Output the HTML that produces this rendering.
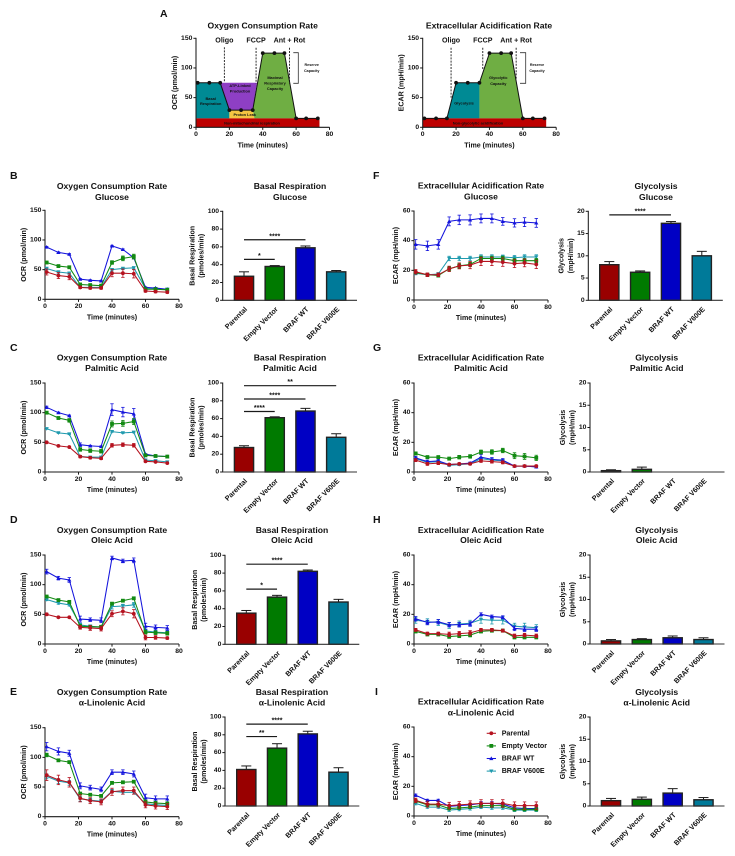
<!DOCTYPE html>
<html lang="en">
<head>
<meta charset="utf-8">
<title>Oxygen consumption and extracellular acidification panels</title>
<style>
html,body{margin:0;padding:0;background:#fff;}
body{width:735px;height:856px;overflow:hidden;}
svg{display:block;filter:blur(0.28px);}
text{font-family:"Liberation Sans",sans-serif;font-weight:700;fill:#111;dominant-baseline:central;}
</style>
</head>
<body>
<svg id="figure" xmlns="http://www.w3.org/2000/svg" width="735" height="856" viewBox="0 0 735 856"></svg>
<script>
// ---------- shared data ----------
const times = [1, 8, 14.5, 21, 27, 33.5, 40, 46.5, 53, 60, 66, 73];
const xTicks = [0, 20, 40, 60, 80];
const ocrTicks = [0, 50, 100, 150];
const ecarTicks = [0, 20, 40, 60];
const basalTicks = [0, 20, 40, 60, 80, 100];
const glycoTicks = [0, 5, 10, 15, 20];
const cellLines = ['Parental', 'Empty Vector', 'BRAF WT', 'BRAF V600E'];

// ---------- panel A model curves ----------
const modelTimes = [1, 8, 14.5, 20, 27, 34, 40, 47, 53, 60, 66, 73];
const ocrModel = [75, 75, 75, 29, 29, 29, 125, 125, 125, 15, 15, 15];
const ecarModel = [15, 15, 15, 75, 75, 75, 125, 125, 125, 15, 15, 15];

// ---------- B: OCR glucose ----------
const ocrGluP = [46, 40, 38, 20, 19, 19, 44, 44, 43, 14, 13, 12];
const ocrGluE = [62, 56, 54, 25, 24, 23, 62, 69, 72, 17, 17, 16];
const ocrGluW = [88, 79, 76, 34, 32, 31, 90, 84, 70, 20, 19, 17];
const ocrGluV = [52, 46, 44, 20, 20, 20, 50, 52, 53, 18, 18, 17];
const ocrGluPErr = [5, 5, 5, 2, 2, 2, 6, 7, 7, 2, 2, 2];
const ocrGluEErr = [2, 2, 2, 2, 2, 2, 3, 4, 4, 1, 1, 1];
const ocrGluWErr = [1, 1, 1, 1, 1, 1, 1, 1, 1, 1, 1, 1];
const ocrGluVErr = [2, 2, 2, 1, 1, 1, 2, 2, 2, 1, 1, 1];
// ---------- C: OCR palmitic ----------
const ocrPalP = [50, 44, 42, 26, 24, 23, 45, 46, 45, 18, 17, 15];
const ocrPalE = [100, 91, 87, 38, 36, 35, 81, 82, 85, 28, 27, 26];
const ocrPalW = [109, 100, 95, 46, 44, 43, 105, 101, 98, 30, 27, 26];
const ocrPalV = [73, 66, 64, 26, 25, 25, 68, 66, 67, 20, 19, 17];
const ocrPalPErr = [1, 1, 1, 2, 2, 2, 3, 3, 3, 1, 1, 1];
const ocrPalEErr = [2, 2, 3, 3, 3, 3, 5, 5, 5, 2, 1, 1];
const ocrPalWErr = [2, 1, 1, 3, 1, 1, 10, 8, 9, 1, 1, 1];
const ocrPalVErr = [1, 1, 1, 1, 1, 1, 1, 1, 1, 1, 1, 1];
// ---------- D: OCR oleic ----------
const ocrOleP = [50, 45, 45, 28, 27, 26, 51, 55, 51, 11, 11, 10];
const ocrOleE = [80, 74, 71, 30, 29, 29, 68, 73, 77, 20, 19, 18];
const ocrOleW = [122, 111, 108, 42, 41, 40, 145, 140, 141, 30, 28, 27];
const ocrOleV = [75, 69, 66, 32, 30, 28, 63, 64, 66, 22, 20, 19];
const ocrOlePErr = [2, 1, 1, 3, 4, 4, 5, 6, 7, 4, 3, 2];
const ocrOleEErr = [2, 2, 2, 3, 2, 2, 2, 2, 2, 3, 3, 3];
const ocrOleWErr = [4, 3, 4, 5, 3, 4, 3, 3, 4, 5, 4, 4];
const ocrOleVErr = [2, 2, 2, 3, 2, 2, 4, 3, 4, 3, 3, 3];
// ---------- E: OCR linolenic ----------
const ocrLinP = [70, 62, 58, 31, 27, 25, 42, 44, 44, 20, 18, 17];
const ocrLinE = [104, 95, 92, 39, 37, 35, 57, 58, 59, 25, 23, 22];
const ocrLinW = [118, 110, 107, 52, 49, 46, 75, 75, 72, 32, 30, 30];
const ocrLinV = [68, 60, 57, 30, 28, 26, 43, 41, 41, 22, 20, 19];
const ocrLinPErr = [9, 8, 8, 6, 5, 5, 6, 6, 6, 5, 5, 5];
const ocrLinEErr = [3, 2, 2, 2, 2, 2, 2, 2, 2, 3, 3, 3];
const ocrLinWErr = [7, 6, 5, 5, 4, 4, 4, 4, 5, 6, 5, 5];
const ocrLinVErr = [4, 4, 4, 4, 3, 3, 3, 3, 3, 3, 3, 3];
// ---------- F: ECAR glucose ----------
const ecarGluP = [19, 17, 17, 21, 23, 23.5, 26, 26, 25.5, 24.5, 25, 24];
const ecarGluE = [18.5, 17, 16.5, 21, 23, 24, 28, 28, 28, 26.5, 26.5, 26.5];
const ecarGluW = [37.5, 36.5, 37.5, 53, 54, 54, 55, 55, 53, 52, 52.5, 52];
const ecarGluV = [18, 17, 17.5, 28, 28, 28, 29, 29, 29, 28.5, 29, 29];
const ecarGluPErr = [1.5, 1.2, 1.2, 1.8, 2, 2.4, 2.8, 2.8, 2.8, 2.6, 2.6, 2.8];
const ecarGluEErr = [1, 1, 1, 1.5, 1.5, 1.5, 1.5, 1.5, 1.5, 1.5, 1.5, 1.5];
const ecarGluWErr = [3.2, 3.2, 3.2, 3, 3.2, 3.4, 3, 3, 2.6, 2.8, 3, 3];
const ecarGluVErr = [1, 1, 1, 1.5, 1.5, 1.5, 1.5, 1.5, 1.3, 1.5, 1.5, 1.5];
// ---------- G: ECAR palmitic ----------
const ecarPalP = [8, 5.5, 6, 5, 5.5, 5.5, 7.5, 7, 6.5, 4, 4, 4];
const ecarPalE = [12.5, 10, 10, 9, 10, 10.5, 13.5, 13.5, 14.5, 11, 10.5, 9.5];
const ecarPalW = [9.5, 7, 7.5, 5, 5.5, 6, 10, 8.5, 8, 4, 4, 3.5];
const ecarPalV = [9, 6.5, 7, 4.5, 5, 5.5, 9, 8, 7.5, 4, 4, 3.5];
const ecarPalPErr = [1, 1, 1, 0.7, 0.7, 0.7, 1, 1, 1, 0.7, 0.7, 0.7];
const ecarPalEErr = [1, 1, 1, 1, 1.2, 1.2, 1.3, 1.5, 1.5, 2, 2, 1.8];
const ecarPalWErr = [1, 1, 1, 0.7, 0.7, 0.7, 1.8, 1.2, 1, 0.7, 0.7, 0.7];
const ecarPalVErr = [0.7, 0.7, 0.7, 0.7, 0.7, 0.7, 1, 1, 1, 0.7, 0.7, 0.7];
// ---------- H: ECAR oleic ----------
const ecarOleP = [9.5, 7, 7, 6.5, 7, 7.5, 9.5, 9.5, 9, 5.5, 6, 5.5];
const ecarOleE = [8.5, 6.5, 6.5, 5, 5.5, 6, 8.5, 9, 9, 4.5, 4.5, 4.5];
const ecarOleW = [17, 14.5, 15, 13, 13, 13.5, 20, 18.5, 18, 10.5, 10, 10];
const ecarOleV = [16, 15, 14.5, 12.5, 13.5, 14, 16.5, 16, 16, 12, 11.5, 11];
const ecarOlePErr = [1, 1, 1, 1.5, 1.5, 1.5, 1, 1, 1, 1.2, 1.2, 1.2];
const ecarOleEErr = [1, 1, 1, 1.2, 1.2, 1.2, 1, 1, 1, 1, 1, 1];
const ecarOleWErr = [1.5, 1.5, 1.5, 1.5, 1.5, 1.5, 1, 1, 1, 1.5, 1.5, 1.5];
const ecarOleVErr = [2, 2, 2, 2, 2, 2, 2.5, 2.5, 2.5, 2, 2.5, 2];
// ---------- I: ECAR linolenic ----------
const ecarLinP = [10.5, 8, 8, 7, 7.5, 8, 8.5, 8.5, 8.5, 7, 7, 7];
const ecarLinE = [10, 7.5, 7.5, 5, 5.5, 6, 7, 7, 7, 4.5, 4.5, 4.5];
const ecarLinW = [14, 10.5, 10.5, 6.5, 7, 7.5, 8.5, 8.5, 8, 5.5, 5, 5];
const ecarLinV = [8.5, 6, 6, 4, 4.5, 5, 6, 5.5, 5.5, 4, 4, 4];
const ecarLinPErr = [1.5, 2, 2, 2.2, 2.2, 2.2, 2.5, 2.5, 2.5, 2.5, 2.5, 2.5];
const ecarLinEErr = [1, 1, 1, 1, 1, 1, 1.2, 1.2, 1.2, 1, 1, 1];
const ecarLinWErr = [0.8, 0.8, 0.8, 1, 1, 1, 1.2, 1.2, 1.2, 1, 1, 1];
const ecarLinVErr = [1, 0.8, 0.8, 1, 1, 1, 1, 1, 1, 1, 1, 1];

// ---------- bar panels ----------
const basalGlu = [27, 38, 59, 32];
const basalGluErr = [5, 1, 2, 1.5];
const basalPal = [27.5, 61, 68.5, 39];
const basalPalErr = [2, 1, 3, 4];
const basalOle = [35, 53, 82, 47.5];
const basalOleErr = [3, 2, 1.5, 3];
const basalLin = [41, 65, 81, 38];
const basalLinErr = [4, 5, 3, 5];
const glycoGlu = [8, 6.3, 17.3, 10];
const glycoGluErr = [0.7, 0.3, 0.4, 1];
const glycoPal = [0.3, 0.6, 0, 0];
const glycoPalErr = [0.2, 0.5, 0, 0];
const glycoOle = [0.7, 1, 1.4, 1];
const glycoOleErr = [0.3, 0.2, 0.4, 0.4];
const glycoLin = [1.2, 1.5, 2.9, 1.4];
const glycoLinErr = [0.5, 0.5, 1, 0.5];

// significance brackets: [from bar, to bar, value height, stars]
const sigBasalGlu = [[0, 1, 46, '*'], [0, 2, 68, '****']];
const sigBasalPal = [[0, 1, 68, '****'], [0, 2, 82, '****'], [0, 3, 97, '**']];
const sigBasalOle = [[0, 1, 62, '*'], [0, 2, 90, '****']];
const sigBasalLin = [[0, 1, 78, '**'], [0, 2, 92, '****']];
const sigGlycoGlu = [[0, 2, 19.2, '****']];

// ---------- styling ----------
const barColors = ['#990000', '#007a00', '#0000c4', '#007a99'];
const lineColors = ['#b5121f', '#128a12', '#1414dc', '#1f9aae'];
const ink = '#1a1a1a';
const NS = 'http://www.w3.org/2000/svg';
const root = document.getElementById('figure');

function linear(d0, d1, r0, r1) {
  return function (v) { return r0 + (v - d0) * (r1 - r0) / (d1 - d0); };
}
function shape(parent, tag, attrs, name) {
  const el = document.createElementNS(NS, tag);
  for (const k in attrs) el.setAttribute(k, attrs[k]);
  
  
  parent.appendChild(el);
  return el;
}
function label(parent, x, y, str, size, name, anchor, transform) {
  const el = document.createElementNS(NS, 'text');
  el.setAttribute('x', x);
  el.setAttribute('y', y);
  el.setAttribute('font-size', size);
  el.setAttribute('text-anchor', anchor || 'middle');
  if (transform) el.setAttribute('transform', transform);
  el.textContent = str;
  
  
  parent.appendChild(el);
  return el;
}
function group(parent, name) {
  const el = document.createElementNS(NS, 'g');
  
  
  parent.appendChild(el);
  return el;
}
function seg(parent, x1, y1, x2, y2, color, w, name, dash) {
  const a = { x1: x1, y1: y1, x2: x2, y2: y2, stroke: color, 'stroke-width': w };
  if (dash) a['stroke-dasharray'] = dash;
  return shape(parent, 'line', a, name);
}
function marker(parent, kind, x, y, color, name) {
  if (kind === 0) return shape(parent, 'circle', { cx: x, cy: y, r: 1.9, fill: color }, name);
  if (kind === 1) return shape(parent, 'rect', { x: x - 1.9, y: y - 1.9, width: 3.8, height: 3.8, fill: color }, name);
  if (kind === 2) return shape(parent, 'polygon', { points: (x - 2.1) + ',' + (y + 1.6) + ' ' + (x + 2.1) + ',' + (y + 1.6) + ' ' + x + ',' + (y - 2.1), fill: color }, name);
  return shape(parent, 'polygon', { points: (x - 2.1) + ',' + (y - 1.6) + ' ' + (x + 2.1) + ',' + (y - 1.6) + ' ' + x + ',' + (y + 2.1), fill: color }, name);
}
function lineAxes(g, sx, sy, yTicks, yTitle, yTitleOffset) {
  const x0 = sx(0), y0 = sy(0);
  seg(g, x0, sy(yTicks[yTicks.length - 1]) - 0.5, x0, y0 + 0.5, ink, 1.05, 'y-axis-line');
  seg(g, x0, y0, sx(80), y0, ink, 1.05, 'x-axis-line');
  yTicks.forEach(function (t) {
    seg(g, x0 - 2.6, sy(t), x0, sy(t), ink, 1, 'y-tick');
    label(g, x0 - 3.6, sy(t), t, 6.8, 'y-tick-label', 'end');
  });
  xTicks.forEach(function (t) {
    seg(g, sx(t), y0, sx(t), y0 + 2.6, ink, 1, 'x-tick');
    label(g, sx(t), y0 + 7.4, t, 6.8, 'x-tick-label');
  });
  label(g, sx(40), y0 + 18, 'Time (minutes)', 7.1, 'x-axis-title');
  const tx = x0 - yTitleOffset, ty = (y0 + sy(yTicks[yTicks.length - 1])) / 2;
  label(g, tx, ty, yTitle, 7.1, 'y-axis-title', 'middle', 'rotate(-90 ' + tx + ' ' + ty + ')');
}
function titleLines(g, x, y1, y2, first, second) {
  label(g, x, y1, first, 8.6, 'chart-title');
  label(g, x, y2, second, 8.6, 'chart-subtitle');
}
// order of drawing: V600E, WT, Empty Vector, Parental
function drawLines(panel) {
  const g = group(root, panel.name);
  const sx = linear(0, 80, panel.x0, panel.x0 + 134);
  const sy = linear(0, panel.yMax, panel.y0, panel.yTop);
  titleLines(g, panel.tx, panel.ty1, panel.ty2, panel.title, panel.sub);
  lineAxes(g, sx, sy, panel.ticks, panel.yTitle, panel.yOff);
  [3, 2, 1, 0].forEach(function (s) {
    const sg = group(g, 'series-' + cellLines[s].toLowerCase().replace(/ /g, '-'));
    const vals = panel.series[s], errs = panel.errors[s], col = lineColors[s];
    const pts = times.map(function (t, i) { return sx(t) + ',' + sy(vals[i]); }).join(' ');
    shape(sg, 'polyline', { points: pts, fill: 'none', stroke: col, 'stroke-width': 1.05 }, 'series-line');
    times.forEach(function (t, i) {
      const x = sx(t), hi = sy(vals[i] + errs[i]), lo = sy(vals[i] - errs[i]);
      seg(sg, x, hi, x, lo, col, 0.8, 'error-bar');
      seg(sg, x - 1.7, hi, x + 1.7, hi, col, 0.8, 'error-cap');
      seg(sg, x - 1.7, lo, x + 1.7, lo, col, 0.8, 'error-cap');
      marker(sg, s, x, sy(vals[i]), col, 'data-point');
    });
  });
}
function drawBars(panel) {
  const g = group(root, panel.name);
  const sy = linear(0, panel.yMax, panel.y0, panel.yTop);
  const sb = linear(0, 3, panel.c0, panel.c3);
  const y0 = sy(0), ax = panel.ax;
  titleLines(g, panel.tx, panel.ty1, panel.ty2, panel.title, panel.sub);
  panel.values.forEach(function (v, i) {
    const c = sb(i), w = 19.2, top = sy(v), hi = sy(v + panel.errs[i]);
    if (panel.errs[i] > 0) {
      seg(g, c, hi, c, top, ink, 1, 'bar-error');
      seg(g, c - 5, hi, c + 5, hi, ink, 1, 'bar-error-cap');
    }
    shape(g, 'rect', { x: c - w / 2, y: top, width: w, height: Math.max(0, y0 - top), fill: barColors[i], stroke: '#222', 'stroke-width': 1.4 }, 'bar-' + cellLines[i].toLowerCase().replace(/ /g, '-'));
    const lx = c + 2.2, ly = y0 + 8;
    label(g, lx, ly, cellLines[i], 7.1, 'bar-category-label', 'end', 'rotate(-45 ' + lx + ' ' + ly + ')');
  });
  seg(g, ax, sy(panel.ticks[panel.ticks.length - 1]) - 0.5, ax, y0 + 0.5, ink, 1.05, 'y-axis-line');
  seg(g, ax, y0, panel.axEnd, y0, '#333', 1.1, 'x-axis-line');
  panel.ticks.forEach(function (t) {
    seg(g, ax - 2.6, sy(t), ax, sy(t), ink, 1, 'y-tick');
    label(g, ax - 3.6, sy(t), t, 6.8, 'y-tick-label', 'end');
  });
  const my = (y0 + sy(panel.yMax)) / 2;
  label(g, panel.yt1, my, panel.yLabel1, 7.1, 'y-axis-title', 'middle', 'rotate(-90 ' + panel.yt1 + ' ' + my + ')');
  label(g, panel.yt2, my, panel.yLabel2, 7.1, 'y-axis-unit', 'middle', 'rotate(-90 ' + panel.yt2 + ' ' + my + ')');
  panel.sig.forEach(function (s) {
    const a = sb(s[0]), b = sb(s[1]), y = sy(s[2]);
    seg(g, a, y, b, y, ink, 1.2, 'significance-bar');
    label(g, (a + b) / 2, y - 3, s[3], 7, 'significance-stars');
  });
}
function drawModel(m) {
  const g = group(root, m.name);
  const sx = linear(0, 80, m.x0, m.x0 + 133.5);
  const sy = linear(0, 150, 127.3, 38.3);
  const fills = group(g, 'model-regions');
  m.regions.forEach(function (r) {
    const pts = r.pts.map(function (p) { return sx(p[0]) + ',' + sy(p[1]); }).join(' ');
    shape(fills, 'polygon', { points: pts, fill: r.fill }, r.label);
  });
  lineAxes(g, sx, sy, ocrTicks, m.yTitle, 21);
  label(g, m.tx, 25.3, m.title, 8.6, 'chart-title');
  m.drugs.forEach(function (d) {
    seg(g, sx(d.t), sy(d.top), sx(d.t), sy(d.bottom), ink, 0.9, 'injection-line', '2 1.2');
    label(g, sx(d.t), 40.7, d.text, 7.1, 'injection-label');
  });
  const pts = modelTimes.map(function (t, i) { return sx(t) + ',' + sy(m.values[i]); }).join(' ');
  shape(g, 'polyline', { points: pts, fill: 'none', stroke: '#111', 'stroke-width': 1 }, 'model-line');
  modelTimes.forEach(function (t, i) {
    shape(g, 'circle', { cx: sx(t), cy: sy(m.values[i]), r: 1.9, fill: '#111' }, 'model-point');
  });
  m.notes.forEach(function (n) {
    label(g, n[0], n[1], n[2], n[3] || 3.9, 'region-label');
  });
  const b = m.bracket;
  shape(g, 'polyline', { points: b.x0 + ',' + b.y0 + ' ' + b.x1 + ',' + b.y0 + ' ' + b.x1 + ',' + b.y1 + ' ' + b.x0 + ',' + b.y1, fill: 'none', stroke: '#333', 'stroke-width': 0.8 }, 'reserve-capacity-bracket');
  label(g, b.tx, 65, 'Reserve', 3.7, 'reserve-capacity-label');
  label(g, b.tx, 70.8, 'Capacity', 3.7, 'reserve-capacity-label');
}

// ---------- panel letters ----------
[['A', 160, 14], ['B', 10, 176], ['C', 10, 348], ['D', 10, 520], ['E', 10, 692],
 ['F', 373, 176], ['G', 373, 348], ['H', 373, 520], ['I', 375, 692]].forEach(function (p) {
  label(root, p[1], p[2], p[0], 10.5, 'panel-letter-' + p[0].toLowerCase(), 'start');
});

// ---------- panel A ----------
drawModel({
  name: 'panel-a-ocr-model', x0: 196, yTitle: 'OCR (pmol/min)', title: 'Oxygen Consumption Rate', tx: 262.7, values: ocrModel,
  regions: [
    { label: 'basal-respiration-region', fill: '#008a94', pts: [[0, 15], [0, 75], [14.5, 75], [20, 29], [20, 15]] },
    { label: 'atp-linked-region', fill: '#8e3fc4', pts: [[14.5, 75], [36.5, 75], [34, 29], [20, 29]] },
    { label: 'proton-leak-region', fill: '#f4c542', pts: [[20, 29], [34, 29], [35, 15], [20, 15]] },
    { label: 'maximal-capacity-region', fill: '#6fae43', pts: [[34, 29], [40, 125], [53, 125], [60, 15], [35, 15]] },
    { label: 'non-mitochondrial-region', fill: '#bd0000', pts: [[0, 0], [74, 0], [74, 15], [0, 15]] }
  ],
  drugs: [
    { t: 17, top: 135, bottom: 77, text: 'Oligo' },
    { t: 36, top: 134, bottom: 74, text: 'FCCP' },
    { t: 56, top: 134, bottom: 74, text: 'Ant + Rot' }
  ],
  notes: [
    [210.7, 98.3, 'Basal'], [210.7, 103.7, 'Respiration'],
    [240, 85.3, 'ATP-Linked'], [240, 91, 'Production'],
    [275, 77.3, 'Maximal'], [275, 83, 'Respiratory'], [275, 88.3, 'Capacity'],
    [244.7, 114.3, 'Proton Leak'], [252, 123, 'Non-mitochondrial respiration']
  ],
  bracket: { x0: 293.3, x1: 298.3, y0: 52.7, y1: 83.3, tx: 311.7 }
});
drawModel({
  name: 'panel-a-ecar-model', x0: 422.7, yTitle: 'ECAR (mpH/min)', title: 'Extracellular Acidification Rate', tx: 489, values: ecarModel,
  regions: [
    { label: 'glycolysis-region', fill: '#008a94', pts: [[14.5, 15], [20, 75], [34, 75], [34, 15]] },
    { label: 'glycolytic-capacity-region', fill: '#6fae43', pts: [[34, 15], [34, 75], [40, 125], [53, 125], [60, 15]] },
    { label: 'non-glycolytic-region', fill: '#bd0000', pts: [[0, 0], [74, 0], [74, 15], [0, 15]] }
  ],
  drugs: [
    { t: 17, top: 134, bottom: 50, text: 'Oligo' },
    { t: 36, top: 134, bottom: 98, text: 'FCCP' },
    { t: 56, top: 134, bottom: 82, text: 'Ant + Rot' }
  ],
  notes: [
    [464, 103, 'Glycolysis'], [498.3, 77.7, 'Glycolytic'], [498.3, 83.3, 'Capacity'],
    [478, 123, 'Non-glycolytic acidification']
  ],
  bracket: { x0: 520, x1: 525.7, y0: 52.7, y1: 83.3, tx: 537 }
});

// ---------- line panels ----------
const ocrTitle = 'Oxygen Consumption Rate';
const ecarTitle = 'Extracellular Acidification Rate';
function ocrPanel(name, y0, ty1, ty2, sub, series, errors) {
  drawLines({ name: name, x0: 45, y0: y0, yTop: y0 - 89, yMax: 150, ticks: ocrTicks, yTitle: 'OCR (pmol/min)', yOff: 21, tx: 112, ty1: ty1, ty2: ty2, title: ocrTitle, sub: sub, series: series, errors: errors });
}
function ecarPanel(name, y0, ty1, ty2, sub, series, errors) {
  drawLines({ name: name, x0: 414, y0: y0, yTop: y0 - 89, yMax: 60, ticks: ecarTicks, yTitle: 'ECAR (mpH/min)', yOff: 18, tx: 481, ty1: ty1, ty2: ty2, title: ecarTitle, sub: sub, series: series, errors: errors });
}
ocrPanel('panel-b-ocr-glucose', 299.3, 186, 197, 'Glucose', [ocrGluP, ocrGluE, ocrGluW, ocrGluV], [ocrGluPErr, ocrGluEErr, ocrGluWErr, ocrGluVErr]);
ocrPanel('panel-c-ocr-palmitic', 472, 357.7, 368, 'Palmitic Acid', [ocrPalP, ocrPalE, ocrPalW, ocrPalV], [ocrPalPErr, ocrPalEErr, ocrPalWErr, ocrPalVErr]);
ocrPanel('panel-d-ocr-oleic', 644, 530, 540, 'Oleic Acid', [ocrOleP, ocrOleE, ocrOleW, ocrOleV], [ocrOlePErr, ocrOleEErr, ocrOleWErr, ocrOleVErr]);
ocrPanel('panel-e-ocr-linolenic', 816.7, 692, 702.3, 'α-Linolenic Acid', [ocrLinP, ocrLinE, ocrLinW, ocrLinV], [ocrLinPErr, ocrLinEErr, ocrLinWErr, ocrLinVErr]);
ecarPanel('panel-f-ecar-glucose', 300, 185.7, 196.7, 'Glucose', [ecarGluP, ecarGluE, ecarGluW, ecarGluV], [ecarGluPErr, ecarGluEErr, ecarGluWErr, ecarGluVErr]);
ecarPanel('panel-g-ecar-palmitic', 472, 357.7, 368, 'Palmitic Acid', [ecarPalP, ecarPalE, ecarPalW, ecarPalV], [ecarPalPErr, ecarPalEErr, ecarPalWErr, ecarPalVErr]);
ecarPanel('panel-h-ecar-oleic', 644, 530, 540, 'Oleic Acid', [ecarOleP, ecarOleE, ecarOleW, ecarOleV], [ecarOlePErr, ecarOleEErr, ecarOleWErr, ecarOleVErr]);
ecarPanel('panel-i-ecar-linolenic', 816, 701.7, 712.7, 'α-Linolenic Acid', [ecarLinP, ecarLinE, ecarLinW, ecarLinV], [ecarLinPErr, ecarLinEErr, ecarLinWErr, ecarLinVErr]);

// ---------- bar panels ----------
function basalPanel(name, y0, ax, tx, ty1, ty2, sub, values, errs, sig) {
  drawBars({ name: name, y0: y0, yTop: y0 - 89, yMax: 100, ticks: basalTicks, ax: ax, axEnd: ax + 134.3, c0: ax + 21.3, c3: ax + 113.5, tx: tx, ty1: ty1, ty2: ty2, title: 'Basal Respiration', sub: sub, values: values, errs: errs, sig: sig, yLabel1: 'Basal Respiration', yLabel2: '(pmoles/min)', yt1: ax - 30, yt2: ax - 21 });
}
function glycoPanel(name, y0, ax, tx, ty1, ty2, sub, values, errs, sig) {
  drawBars({ name: name, y0: y0, yTop: y0 - 89, yMax: 20, ticks: glycoTicks, ax: ax, axEnd: ax + 134.5, c0: ax + 21, c3: ax + 113.5, tx: tx, ty1: ty1, ty2: ty2, title: 'Glycolysis', sub: sub, values: values, errs: errs, sig: sig, yLabel1: 'Glycolysis', yLabel2: '(mpH/min)', yt1: ax - 27, yt2: ax - 17.5 });
}
basalPanel('panel-b-basal-glucose', 300.3, 222.7, 290, 186, 197, 'Glucose', basalGlu, basalGluErr, sigBasalGlu);
basalPanel('panel-c-basal-palmitic', 472, 222.7, 290, 357.7, 368, 'Palmitic Acid', basalPal, basalPalErr, sigBasalPal);
basalPanel('panel-d-basal-oleic', 644.3, 225, 292, 530, 540, 'Oleic Acid', basalOle, basalOleErr, sigBasalOle);
basalPanel('panel-e-basal-linolenic', 806, 225, 292, 692, 702.3, 'α-Linolenic Acid', basalLin, basalLinErr, sigBasalLin);
glycoPanel('panel-f-glycolysis-glucose', 300.3, 588.3, 656, 186, 197, 'Glucose', glycoGlu, glycoGluErr, sigGlycoGlu);
glycoPanel('panel-g-glycolysis-palmitic', 472, 590, 656.7, 357.7, 368, 'Palmitic Acid', glycoPal, glycoPalErr, []);
glycoPanel('panel-h-glycolysis-oleic', 644, 590, 656.7, 530, 540, 'Oleic Acid', glycoOle, glycoOleErr, []);
glycoPanel('panel-i-glycolysis-linolenic', 806, 590, 656.7, 692, 702.3, 'α-Linolenic Acid', glycoLin, glycoLinErr, []);

// ---------- legend ----------
const legend = group(root, 'legend');
cellLines.forEach(function (nameText, i) {
  const y = 733.3 + i * 12.6;
  const entry = group(legend, 'legend-entry');
  seg(entry, 486.7, y, 496, y, lineColors[i], 1.05, 'legend-line');
  marker(entry, i, 491.3, y, lineColors[i], 'legend-marker');
  label(entry, 501.7, y, nameText, 7.1, 'legend-label', 'start');
});
</script>
</body>
</html>
